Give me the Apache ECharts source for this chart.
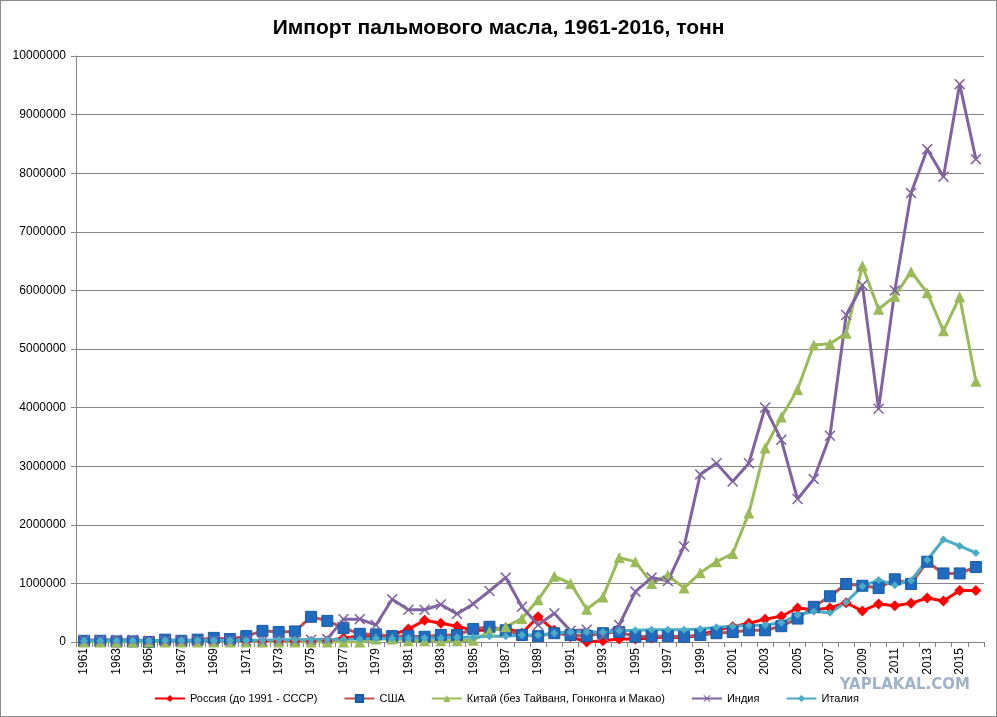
<!DOCTYPE html>
<html>
<head>
<meta charset="utf-8">
<script src="https://cdn.jsdelivr.net/npm/echarts@6/dist/echarts.min.js"></script>
<style>
  html, body { margin: 0; padding: 0; background: #fff; }
  #chart { width: 995px; height: 715px; border: 1px solid #8c8c8c; }
</style>
</head>
<body>
<div id="chart"></div>
<script>
var years = [];
for (var y = 1961; y <= 2016; y++) { years.push(String(y)); }

// значения, млн тонн
var russia = [0.01, 0.01, 0.01, 0.01, 0.01, 0.01, 0.01, 0.01, 0.01, 0.01,
    0.01, 0.01, 0.01, 0.01, 0.01, 0.02, 0.07, 0.1, 0.1, 0.12,
    0.22, 0.37, 0.32, 0.27, 0.2, 0.2, 0.24, 0.15, 0.43, 0.2,
    0.09, 0.0, 0.02, 0.05, 0.05, 0.07, 0.09, 0.07, 0.12, 0.2,
    0.26, 0.32, 0.39, 0.44, 0.58, 0.55, 0.58, 0.67, 0.53, 0.65,
    0.62, 0.66, 0.75, 0.7, 0.88, 0.88];
var usa = [0.02, 0.02, 0.01, 0.01, 0.0, 0.04, 0.02, 0.04, 0.07, 0.05,
    0.1, 0.19, 0.17, 0.18, 0.43, 0.36, 0.24, 0.14, 0.13, 0.1,
    0.1, 0.09, 0.12, 0.12, 0.22, 0.26, 0.2, 0.12, 0.1, 0.15,
    0.12, 0.1, 0.15, 0.17, 0.09, 0.1, 0.1, 0.09, 0.12, 0.15,
    0.17, 0.2, 0.2, 0.27, 0.4, 0.6, 0.78, 0.99, 0.96, 0.92,
    1.07, 0.99, 1.37, 1.17, 1.17, 1.28];
var china = [0, 0, 0, 0, 0, 0, 0, 0, 0, 0,
    0, 0, 0, 0, 0, 0, 0, 0, 0.05, 0.05,
    0.02, 0.02, 0.02, 0.02, 0.03, 0.18, 0.26, 0.4, 0.72, 1.12,
    1.0, 0.56, 0.77, 1.44, 1.37, 1.0, 1.14, 0.92, 1.18, 1.37,
    1.51, 2.2, 3.31, 3.84, 4.31, 5.07, 5.09, 5.27, 6.42, 5.68,
    5.9, 6.32, 5.96, 5.31, 5.89, 4.45];
var india = [0.03, 0.04, 0.04, 0.04, 0.02, 0.02, 0.02, 0.02, 0.02, 0.02,
    0.02, 0.02, 0.03, 0.03, 0.04, 0.05, 0.39, 0.39, 0.29, 0.73,
    0.55, 0.55, 0.64, 0.48, 0.65, 0.87, 1.1, 0.6, 0.29, 0.49,
    0.19, 0.21, 0.1, 0.29, 0.86, 1.1, 1.04, 1.63, 2.86, 3.05,
    2.74, 3.05, 4.0, 3.45, 2.44, 2.78, 3.52, 5.58, 6.09, 3.98,
    6.0, 7.66, 8.41, 7.94, 9.52, 8.24];
var italy = [0.02, 0.02, 0.02, 0.02, 0.02, 0.03, 0.03, 0.03, 0.03, 0.03,
    0.03, 0.03, 0.04, 0.04, 0.04, 0.04, 0.05, 0.05, 0.06, 0.06,
    0.07, 0.07, 0.07, 0.08, 0.08, 0.1, 0.1, 0.12, 0.12, 0.15,
    0.17, 0.17, 0.17, 0.19, 0.2, 0.21, 0.21, 0.21, 0.22, 0.25,
    0.27, 0.28, 0.29, 0.33, 0.46, 0.52, 0.5, 0.68, 0.95, 1.06,
    0.97, 1.05, 1.4, 1.75, 1.64, 1.52];

var names = ['Россия (до 1991 - СССР)', 'США', 'Китай (без Тайваня, Гонконга и Макао)', 'Индия', 'Италия'];

function tons(arr) {
    return arr.map(function (v) { return Math.round(v * 1000000); });
}

var font = "'Liberation Sans Narrow', 'Liberation Sans', sans-serif";
var crossPath = 'path://M0,1L1,0L5,4L9,0L10,1L6,5L10,9L9,10L5,6L1,10L0,9L4,5Z';

var myChart = echarts.init(document.getElementById('chart'));

var option = {
    backgroundColor: '#fff',
    animation: false,
    title: {
        text: 'Импорт пальмового масла, 1961-2016, тонн',
        left: 'center',
        top: 12,
        textStyle: { fontFamily: font, fontSize: 21, fontWeight: 'bold', color: '#000' }
    },
    legend: {
        bottom: 7,
        left: 148,
        itemWidth: 30,
        itemHeight: 9,
        itemGap: 26,
        textStyle: { fontFamily: font, fontSize: 11, color: '#000' },
        data: names
    },
    graphic: [{
        type: 'text',
        right: 26,
        bottom: 23,
        style: {
            text: 'YAPLAKAL.COM',
            fill: '#9fb2c6',
            font: "bold 15px 'DejaVu Sans', sans-serif"
        }
    }],
    grid: {
        top: 55,
        left: 75,
        right: 12,
        bottom: 74
    },
    xAxis: {
        type: 'category',
        data: years,
        boundaryGap: true,
        axisLine: { lineStyle: { color: '#868686' } },
        axisTick: { show: true, interval: 0, length: 5, lineStyle: { color: '#868686' } },
        axisLabel: {
            interval: 1,
            rotate: 90,
            fontFamily: font,
            fontSize: 12,
            color: '#000',
            margin: 6
        }
    },
    yAxis: {
        type: 'value',
        min: 0,
        max: 10000000,
        interval: 1000000,
        axisLine: { show: true, lineStyle: { color: '#868686' } },
        axisTick: { show: true, length: 5, lineStyle: { color: '#868686' } },
        axisLabel: {
            fontFamily: font,
            fontSize: 12,
            color: '#000',
            margin: 10,
            formatter: function (v) { return String(v); }
        },
        splitLine: { show: true, lineStyle: { color: '#868686', width: 1 } }
    },
    series: [{
        name: names[0],
        type: 'line',
        data: tons(russia),
        symbol: 'diamond',
        symbolSize: 11,
        showAllSymbol: true,
        lineStyle: { color: '#ff0000', width: 3 },
        itemStyle: { color: '#ff0000' }
    }, {
        name: names[1],
        type: 'line',
        data: tons(usa),
        symbol: 'rect',
        symbolSize: 11,
        showAllSymbol: true,
        lineStyle: { color: '#c0504d', width: 3 },
        itemStyle: { color: '#1f6bbf', borderColor: '#1a5aa6', borderWidth: 1 }
    }, {
        name: names[2],
        type: 'line',
        data: tons(china),
        symbol: 'triangle',
        symbolSize: 11,
        showAllSymbol: true,
        lineStyle: { color: '#9bbb59', width: 3 },
        itemStyle: { color: '#9bbb59' }
    }, {
        name: names[3],
        type: 'line',
        data: tons(india),
        symbol: crossPath,
        symbolSize: 11,
        showAllSymbol: true,
        lineStyle: { color: '#8064a2', width: 3 },
        itemStyle: { color: '#8064a2' }
    }, {
        name: names[4],
        type: 'line',
        data: tons(italy),
        symbol: 'diamond',
        symbolSize: 8,
        showAllSymbol: true,
        lineStyle: { color: '#4bacc6', width: 3 },
        itemStyle: { color: '#4bacc6' }
    }]
};

myChart.setOption(option);
</script>
</body>
</html>
